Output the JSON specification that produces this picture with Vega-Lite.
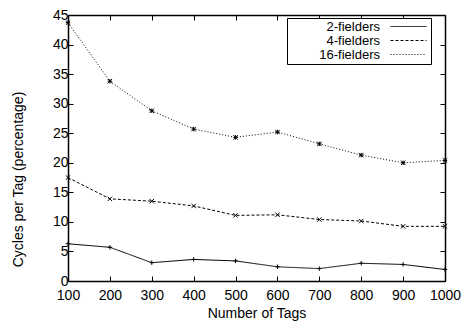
{
  "$schema": "https://vega.github.io/schema/vega-lite/v6.json",
  "width": 377,
  "height": 266,
  "autosize": "none",
  "padding": {"left": 68, "top": 15, "right": 17, "bottom": 48},
  "background": "white",
  "config": {
    "font": "Liberation Sans",
    "view": {"stroke": null},
    "axis": {
      "domainColor": "black",
      "domainWidth": 1.5,
      "tickColor": "black",
      "tickWidth": 1,
      "tickSize": -5,
      "labelColor": "black",
      "labelFontSize": 14,
      "labelFlush": false,
      "labelOverlap": false,
      "titleColor": "black",
      "titleFontSize": 14,
      "titleFontWeight": "normal",
      "grid": false
    },
    "legend": {
      "labelFontSize": 13,
      "labelColor": "black"
    }
  },
  "data": {
    "values": [
      {"tags": 100, "series": "2-fielders", "value": 6.3},
      {"tags": 200, "series": "2-fielders", "value": 5.7},
      {"tags": 300, "series": "2-fielders", "value": 3.1},
      {"tags": 400, "series": "2-fielders", "value": 3.65},
      {"tags": 500, "series": "2-fielders", "value": 3.4},
      {"tags": 600, "series": "2-fielders", "value": 2.4},
      {"tags": 700, "series": "2-fielders", "value": 2.1},
      {"tags": 800, "series": "2-fielders", "value": 3.0},
      {"tags": 900, "series": "2-fielders", "value": 2.8},
      {"tags": 1000, "series": "2-fielders", "value": 1.95},
      {"tags": 100, "series": "4-fielders", "value": 17.5},
      {"tags": 200, "series": "4-fielders", "value": 13.9},
      {"tags": 300, "series": "4-fielders", "value": 13.5},
      {"tags": 400, "series": "4-fielders", "value": 12.7},
      {"tags": 500, "series": "4-fielders", "value": 11.1},
      {"tags": 600, "series": "4-fielders", "value": 11.2},
      {"tags": 700, "series": "4-fielders", "value": 10.4},
      {"tags": 800, "series": "4-fielders", "value": 10.15},
      {"tags": 900, "series": "4-fielders", "value": 9.25},
      {"tags": 1000, "series": "4-fielders", "value": 9.25},
      {"tags": 100, "series": "16-fielders", "value": 43.7},
      {"tags": 200, "series": "16-fielders", "value": 33.8},
      {"tags": 300, "series": "16-fielders", "value": 28.8},
      {"tags": 400, "series": "16-fielders", "value": 25.7},
      {"tags": 500, "series": "16-fielders", "value": 24.3},
      {"tags": 600, "series": "16-fielders", "value": 25.2},
      {"tags": 700, "series": "16-fielders", "value": 23.2},
      {"tags": 800, "series": "16-fielders", "value": 21.3},
      {"tags": 900, "series": "16-fielders", "value": 20.0},
      {"tags": 1000, "series": "16-fielders", "value": 20.4}
    ]
  },
  "layer": [
    {
      "mark": {"type": "line", "color": "black", "strokeWidth": 1},
      "encoding": {
        "x": {
          "field": "tags", "type": "quantitative",
          "scale": {"domain": [100, 1000], "nice": false, "zero": false},
          "axis": {"orient": "bottom", "values": [100, 200, 300, 400, 500, 600, 700, 800, 900, 1000], "format": "d", "title": "Number of Tags", "labelPadding": 12, "titlePadding": 4}
        },
        "y": {
          "field": "value", "type": "quantitative",
          "scale": {"domain": [0, 45], "nice": false},
          "axis": {"orient": "left", "values": [0, 5, 10, 15, 20, 25, 30, 35, 40, 45], "title": "Cycles per Tag (percentage)", "labelPadding": 5, "titleX": -50, "titleY": 164, "titleBaseline": "middle"}
        },
        "strokeDash": {
          "field": "series", "type": "nominal",
          "scale": {"domain": ["2-fielders", "4-fielders", "16-fielders"], "range": [[1, 0], [3, 2], [1, 2]]},
          "legend": {
            "title": null,
            "orient": "none",
            "legendX": 219,
            "legendY": 3,
            "symbolType": "M-3,0L3,0",
            "symbolSize": 144,
            "symbolStrokeColor": "black",
            "symbolFillColor": "transparent",
            "symbolStrokeWidth": 1,
            "labelAlign": "right",
            "labelOffset": -35,
            "symbolOffset": 113,
            "strokeColor": "black",
            "fillColor": "white",
            "padding": 2,
            "rowPadding": -1.5
          }
        }
      }
    },
    {
      "mark": {"type": "point", "color": "black", "filled": false, "strokeWidth": 1, "size": 20, "opacity": 1},
      "encoding": {
        "x": {
          "field": "tags", "type": "quantitative",
          "scale": {"domain": [100, 1000], "nice": false, "zero": false},
          "axis": {"orient": "top", "values": [100, 200, 300, 400, 500, 600, 700, 800, 900, 1000], "labels": false, "title": null}
        },
        "y": {
          "field": "value", "type": "quantitative",
          "scale": {"domain": [0, 45], "nice": false},
          "axis": {"orient": "right", "values": [0, 5, 10, 15, 20, 25, 30, 35, 40, 45], "labels": false, "title": null}
        },
        "shape": {
          "field": "series", "type": "nominal",
          "scale": {"domain": ["2-fielders", "4-fielders", "16-fielders"], "range": ["M-1,0L1,0M0,-1L0,1", "M-1,-1L1,1M-1,1L1,-1", "M-1,-1L1,1M-1,1L1,-1M-1,0L1,0M0,-1L0,1"]},
          "legend": null
        }
      }
    }
  ],
  "resolve": {"axis": {"x": "independent", "y": "independent"}, "scale": {"shape": "independent"}, "legend": {"shape": "independent"}}
}
